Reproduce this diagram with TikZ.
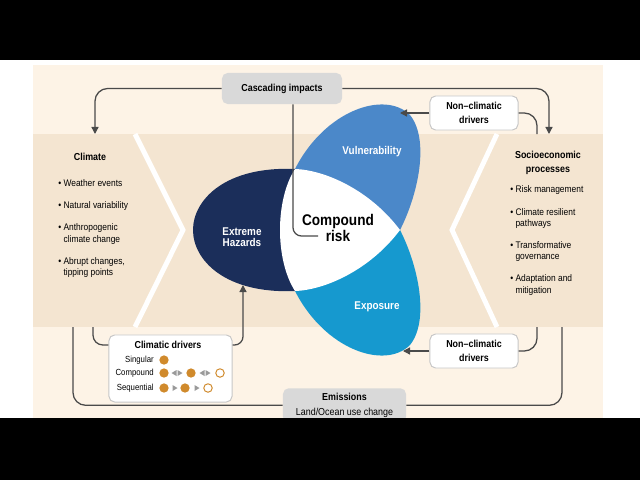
\documentclass[tikz,border=0pt]{standalone}
\usepackage{fontspec}
\setmainfont{Liberation Sans}[FakeStretch=0.88]
\definecolor{bgout}{HTML}{FDF3E6}
\definecolor{bgband}{HTML}{F4E5D1}
\definecolor{navy}{HTML}{1B2E5A}
\definecolor{vuln}{HTML}{4B88C9}
\definecolor{expo}{HTML}{1699CF}
\definecolor{boxgray}{HTML}{D9D9D9}
\definecolor{lnk}{HTML}{4A4A4A}
\definecolor{drv}{HTML}{D08A2C}
\definecolor{trig}{HTML}{9A9A9A}
\usetikzlibrary{calc, arrows.meta}

\tikzset{
  conn/.style={draw=lnk, line width=0.9pt, rounded corners=9pt},
  tip/.style={-{Triangle[length=5pt,width=5pt]}},
  graybox/.style={fill=boxgray, rounded corners=4pt, inner sep=0pt, align=center, font=\bfseries\fontsize{7.2}{10}\selectfont},
  whitebox/.style={fill=white, draw=black!22, line width=0.7pt, rounded corners=4pt, inner sep=0pt, align=center},
  hd/.style={font=\bfseries\fontsize{7.2}{9}\selectfont, align=center, inner sep=0pt},
  bul/.style={font=\fontsize{6.8}{8.2}\selectfont, align=left, inner sep=0pt, anchor=west},
  petal/.style={font=\bfseries\fontsize{8}{8}\selectfont, text=white, align=center, inner sep=0pt},
  rowlbl/.style={font=\fontsize{6.3}{7}\selectfont, anchor=east, inner sep=0pt},
  dot/.style={fill=drv},
  odot/.style={draw=drv, fill=white, line width=0.7pt}
}

\begin{document}
\begin{tikzpicture}[x=0.025cm, y=-0.025cm]
  \useasboundingbox (0,0) rectangle (640,480);
  % backgrounds
  \fill[white] (0,0) rectangle (640,480);
  \fill[bgout] (33,65) rectangle (603,418);
  \fill[bgband] (33,134) rectangle (603,327);
  \draw[white, line width=3.5pt] (135,134) -- (183,230) -- (135,327);
  \draw[white, line width=3.5pt] (497,134) -- (452,230) -- (497,327);

  % petals
  \fill[navy] (295,169) .. controls (225,166) and (193,200) .. (193,230) .. controls (193,260) and (225,294) .. (295,291) -- cycle;
  \fill[vuln] (295,169) .. controls (325,110) and (385,90) .. (410,115) .. controls (430,140) and (418,195) .. (400,230) -- cycle;
  \fill[expo] (295,291) .. controls (325,350) and (385,370) .. (410,345) .. controls (430,320) and (418,265) .. (400,230) -- cycle;
  \fill[white] (295,169) .. controls (325,170) and (370,190) .. (400,230) .. controls (370,270) and (325,290) .. (295,291) .. controls (275,260) and (275,200) .. (295,169) -- cycle;

  \node[petal] (haz) at (242,237) {Extreme\\Hazards};
  \node[petal] (vul) at (372,152) {Vulnerability};
  \node[petal] (exp) at (377,307) {Exposure};
  \node[font=\bfseries\fontsize{11}{12}\selectfont, align=center, inner sep=0pt] (risk) at (338,228) {Compound\\risk};

  % side columns
  \node[hd] (clim) at (90,157) {Climate};
  \foreach \y/\txt [count=\i] in {183/{Weather events}, 206/{Natural variability},
      234/{Anthropogenic\\\phantom{\textbullet\ }climate change},
      267.5/{Abrupt changes,\\\phantom{\textbullet\ }tipping points}}
    \node[bul] (clb\i) at (58,\y) {\textbullet\ \txt};
  \node[hd, font=\bfseries\fontsize{7.2}{9.5}\selectfont] (soc) at (548,163) {Socioeconomic\\processes};
  \foreach \y/\txt [count=\i] in {190/{Risk management},
      218.5/{Climate resilient\\\phantom{\textbullet\ }pathways},
      251.5/{Transformative\\\phantom{\textbullet\ }governance},
      285/{Adaptation and\\\phantom{\textbullet\ }mitigation}}
    \node[bul] (scb\i) at (510,\y) {\textbullet\ \txt};

  % boxes
  \node[graybox, minimum width=3cm, minimum height=0.775cm] (casc) at (282,88.5) {Cascading impacts};
  \node[whitebox, font=\bfseries\fontsize{7.2}{10}\selectfont, minimum width=2.2cm, minimum height=0.85cm] (nct) at (474,113) {Non–climatic\\drivers};
  \node[whitebox, font=\bfseries\fontsize{7.2}{10}\selectfont, minimum width=2.2cm, minimum height=0.85cm] (ncb) at (474,351) {Non–climatic\\drivers};
  \node[graybox, anchor=north, minimum width=3.075cm, inner ysep=3.5pt, font=\fontsize{7.2}{10.5}\selectfont] (emis) at (344.5,388) {\textbf{Emissions}\\Land/Ocean use change};

  % climatic drivers
  \node[whitebox, minimum width=3.075cm, minimum height=1.675cm] (cd) at (170.5,368.5) {};
  \node[hd] (cdt) at (168,345) {Climatic drivers};
  \foreach \y/\lbl/\n in {360/Singular/s, 373/Compound/c, 388/Sequential/q}
    \node[rowlbl] (row\n) at (154,\y) {\lbl};
  \foreach \x/\y in {164/360, 164/373, 191/373, 164/388, 185/388}
    \fill[dot] (\x,\y) circle (3.3pt);
  \foreach \x/\y in {220/373, 208/388}
    \draw[odot] (\x,\y) circle (3pt);
  \foreach \x/\y in {174/373, 202/373}
    \fill[trig] (\x-2.5,\y) -- (\x+2.5,\y-3) -- (\x+2.5,\y+3) -- cycle;
  \foreach \x/\y in {180/373, 208/373, 175/388, 197/388}
    \fill[trig] (\x+2.5,\y) -- (\x-2.5,\y-3) -- (\x-2.5,\y+3) -- cycle;

  % connectors
  \coordinate (climin) at (95,134);
  \coordinate (socin) at (549,134);
  \coordinate (riskin) at (318,236);
  \coordinate (vulin) at (400,113);
  \coordinate (expin) at (403,351);
  \coordinate (hazin) at (243,285);
  \coordinate (bandTR) at (537,134);
  \coordinate (bandBR) at (537,327);
  \coordinate (bandBL) at (93,327);
  \coordinate (emL) at (73,327);
  \coordinate (emR) at (562,327);

  \draw[conn, tip] (casc.west) -| (climin);
  \draw[conn, tip] (casc.east) -| (socin);
  \draw[conn, rounded corners=6pt] ($(casc.south)+(11,0)$) |- (riskin);
  \draw[conn, tip] (nct.west) -- (vulin);
  \draw[conn] (bandTR) |- (nct.east);
  \draw[conn, tip] (ncb.west) -- (expin);
  \draw[conn] (bandBR) |- (ncb.east);
  \draw[conn, rounded corners=7pt] (bandBL) |- (cdt -| cd.west);
  \draw[conn, tip, rounded corners=6pt] (cdt -| cd.east) -| (hazin);
  \draw[conn] (emL) |- (emis.west);
  \draw[conn] (emR) |- (emis.east);

  % frame bars
  \fill[black] (0,0) rectangle (640,60);
  \fill[black] (0,418) rectangle (640,480);
\end{tikzpicture}
\end{document}
